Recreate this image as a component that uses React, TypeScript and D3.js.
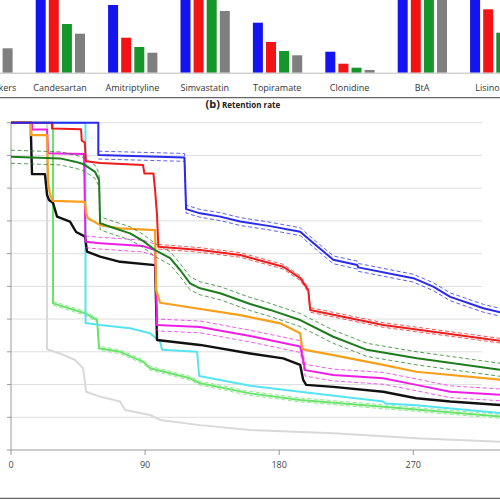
import React from "react";
import * as d3 from "d3";

// ---------- Panel (a) bar data ----------
const categories = ["Beta-blockers", "Candesartan", "Amitriptyline", "Simvastatin", "Topiramate", "Clonidine", "BtA", "Lisinopril"];
const barGroups = ["blue", "red", "green", "gray"];
const barBlue = [90, 90, 67.7, 95, 50, 21, 98, 90];
const barRed = [85, 85, 35, 90, 30.7, 9, 95, 63.4];
const barGreen = [32, 48.7, 25.7, 85, 21.7, 5, 92, 40];
const barGray = [24.4, 39, 20, 61.7, 17.4, 2.7, 90, 30];
const barColors = ["#1414f0", "#f21414", "#16962a", "#7f7f7f"];

// ---------- Panel (b) retention data: [day, retention] ----------
const xTicks = [0, 90, 180, 270];
const yTicks = [0, 0.1, 0.2, 0.3, 0.4, 0.5, 0.6, 0.7, 0.8, 0.9, 1.0];

const blueSeries: [number, number][] = [
  [0, 1], [58.6, 1], [58.6, 0.901], [116.4, 0.894], [117.5, 0.736], [126.9, 0.723], [140.4, 0.713],
  [153.8, 0.698], [173.9, 0.684], [194.1, 0.667], [201.9, 0.636], [216.3, 0.581], [232.4, 0.565],
  [233, 0.558], [270, 0.525], [283.4, 0.499], [294.8, 0.468], [317, 0.433], [330, 0.419],
];
const redSeries: [number, number][] = [
  [0, 1], [27.5, 1], [27.5, 0.982], [47, 0.98], [47.5, 0.945], [49.5, 0.94], [50.3, 0.882],
  [59.8, 0.877], [88.6, 0.871], [89.5, 0.845], [95.6, 0.845], [96.7, 0.794], [98, 0.718],
  [98.9, 0.621], [126.9, 0.611], [153.8, 0.596], [182.7, 0.56], [194.1, 0.525], [199.5, 0.489],
  [200.8, 0.428], [249.8, 0.382], [330, 0.333],
];
const greenSeries: [number, number][] = [
  [0, 0.896], [32.9, 0.891], [43, 0.881], [48.4, 0.874], [56.4, 0.85], [59.1, 0.825], [59.8, 0.693],
  [66.5, 0.682], [79.9, 0.662], [88.6, 0.639], [96.7, 0.611], [106.8, 0.586], [113.5, 0.55],
  [120.2, 0.509], [126.9, 0.494], [140.4, 0.479], [160.5, 0.446], [173.9, 0.428], [194.1, 0.397],
  [216.3, 0.346], [238.9, 0.306], [272.5, 0.28], [330, 0.244],
];
const orangeSeries: [number, number][] = [
  [0, 1], [13.4, 1], [13.4, 0.962], [24.2, 0.962], [24.9, 0.819], [26.2, 0.779], [28.2, 0.761],
  [49.7, 0.758], [50.4, 0.724], [51.7, 0.708], [59.8, 0.687], [73.2, 0.677], [96.7, 0.672],
  [97.4, 0.489], [100.1, 0.45], [153.8, 0.412], [180.7, 0.387], [194.1, 0.357], [195.4, 0.312],
  [197.4, 0.306], [216.3, 0.29], [249.8, 0.26], [272, 0.239], [330, 0.214],
];
const magentaSeries: [number, number][] = [
  [0, 1], [14.1, 1], [14.1, 0.979], [24.2, 0.979], [24.9, 0.907], [49, 0.904], [50, 0.636],
  [59.8, 0.632], [88.6, 0.623], [96.7, 0.611], [98, 0.382], [126.9, 0.376], [160.5, 0.348],
  [194.1, 0.316], [196.1, 0.275], [197.4, 0.244], [216.3, 0.229], [249.8, 0.219], [272, 0.199],
  [294.8, 0.178], [330, 0.168],
];
const blackSeries: [number, number][] = [
  [0, 1], [13.4, 1], [13.4, 0.962], [14.1, 0.843], [22.8, 0.843], [24.2, 0.779], [25.5, 0.764],
  [28.2, 0.755], [30.9, 0.713], [39.6, 0.698], [43.7, 0.666], [49.7, 0.652], [51, 0.606],
  [59.8, 0.591], [73.2, 0.575], [96.7, 0.565], [98, 0.336], [126.9, 0.321], [160.5, 0.295],
  [182.7, 0.28], [194.1, 0.26], [196.1, 0.214], [198.1, 0.199], [216.3, 0.193], [249.8, 0.178],
  [272, 0.158], [294.8, 0.148], [330, 0.137],
];
const cyanSeries: [number, number][] = [
  [0, 1], [50, 1], [50, 0.388], [59.8, 0.382], [79.9, 0.372], [93.4, 0.357], [100.1, 0.331],
  [101.4, 0.306], [124.9, 0.3], [126.3, 0.226], [160.5, 0.196], [194.1, 0.178], [249.8, 0.148],
  [251.2, 0.142], [272, 0.137], [330, 0.112],
];
const lightGreenSeries: [number, number][] = [
  [0, 1], [28.2, 1], [28.2, 0.448], [49.7, 0.418], [57.8, 0.397], [59.1, 0.311], [73.2, 0.3],
  [88.6, 0.27], [93.4, 0.25], [120.2, 0.219], [126.9, 0.204], [160.5, 0.173], [194.1, 0.153],
  [249.8, 0.132], [330, 0.102],
];
const lightGraySeries: [number, number][] = [
  [0, 1], [24.2, 1], [24.2, 0.308], [32.9, 0.295], [43, 0.275], [48.4, 0.25], [50.4, 0.178],
  [59.8, 0.163], [73.2, 0.148], [76.6, 0.122], [93.4, 0.107], [100.1, 0.092], [126.9, 0.076],
  [160.5, 0.061], [216.3, 0.051], [272, 0.036], [330, 0.025],
];

// drawing order, colour, width, CI half width and index where the CI starts
const seriesList = [
  { data: lightGraySeries, color: "#d9d9d9", width: 2, ci: 0, ciFrom: 0 },
  { data: lightGreenSeries, color: "#6ae36a", width: 2, ci: 0.006, ciFrom: 2 },
  { data: cyanSeries, color: "#55e4f0", width: 2, ci: 0, ciFrom: 0 },
  { data: blackSeries, color: "#111111", width: 2.4, ci: 0, ciFrom: 0 },
  { data: magentaSeries, color: "#ee1ee6", width: 2, ci: 0.018, ciFrom: 6 },
  { data: orangeSeries, color: "#f7a01c", width: 2.2, ci: 0, ciFrom: 0 },
  { data: greenSeries, color: "#1d7d1d", width: 2, ci: 0.02, ciFrom: 0 },
  { data: redSeries, color: "#ee1c1c", width: 2, ci: 0.007, ciFrom: 13 },
  { data: blueSeries, color: "#2a2aef", width: 2, ci: 0.012, ciFrom: 2 },
];

export default function App() {
  const W = 500, H = 500;
  const font = "'Open Sans', 'DejaVu Sans', sans-serif";

  // ---- bar scales
  const groupX = d3.scaleBand<string>().domain(categories).range([-48.6, -48.6 + 8 * 72.4]);
  const innerX = d3.scaleBand<string>().domain(barGroups).range([11.9, 61.2]).paddingInner(0.237).paddingOuter(0);
  const barY = d3.scaleLinear().domain([0, 100]).range([72.7, -27.3]);
  const barValues = [barBlue, barRed, barGreen, barGray];

  // ---- line chart scales
  const x = d3.scaleLinear().domain([0, 270]).range([11, 413.3]);
  const y = d3.scaleLinear().domain([0, 1]).range([450, 122.7]);
  const line = d3.line<[number, number]>().x((d) => x(d[0])).y((d) => y(d[1]));

  return (
    <svg width={W} height={H} style={{ position: "absolute", left: 0, top: 0, background: "#fff" }} fontFamily={font}>
      <rect x={0} y={0} width={W} height={H} fill="#fff" />
      {/* Panel a bars */}
      {categories.map((c, i) => (
        <g key={c} transform={`translate(${groupX(c)},0)`}>
          {barGroups.map((g, j) => {
            const v = barValues[j][i];
            return (
              <rect key={g} x={innerX(g)} y={barY(v)} width={innerX.bandwidth()} height={barY(0) - barY(v)} fill={barColors[j]} />
            );
          })}
          <text x={36.2} y={90.5} textAnchor="middle" fontSize={9} fill="#333">{c}</text>
        </g>
      ))}
      <line x1={0} x2={500} y1={73.2} y2={73.2} stroke="#bbb" strokeWidth={1} />
      <line x1={0} x2={500} y1={97.7} y2={97.7} stroke="#666" strokeWidth={1.2} />

      {/* Title */}
      <text x={205.5} y={108.3} fontWeight="bold" fill="#222">
        <tspan fontSize={11}>(b)</tspan>
        <tspan fontSize={8} dx={2}>Retention rate</tspan>
      </text>

      {/* Grid */}
      {yTicks.filter((t) => t > 0).map((t) => (
        <line key={t} x1={11} x2={482} y1={y(t)} y2={y(t)} stroke="#dedede" strokeWidth={1} />
      ))}
      {/* Y axis */}
      <line x1={11} x2={11} y1={y(1)} y2={y(0)} stroke="#999" strokeWidth={1} />
      {yTicks.map((t) => (
        <line key={"yt" + t} x1={7} x2={11} y1={y(t)} y2={y(t)} stroke="#999" strokeWidth={1} />
      ))}
      {/* X axis */}
      <line x1={11} x2={500} y1={y(0)} y2={y(0)} stroke="#999" strokeWidth={1} />
      {xTicks.map((t) => (
        <g key={"xt" + t}>
          <line x1={x(t)} x2={x(t)} y1={450} y2={455} stroke="#999" strokeWidth={1} />
          <text x={x(t)} y={468} textAnchor="middle" fontSize={9} fill="#444">{t}</text>
        </g>
      ))}

      {/* Lines with CI */}
      {seriesList.map((s, i) => {
        const ciPts = s.data.slice(s.ciFrom);
        return (
          <g key={i}>
            {s.ci > 0 && (
              <>
                <path d={line(ciPts.map((d) => [d[0], d[1] + s.ci] as [number, number])) || ""} fill="none" stroke={s.color} strokeOpacity={0.75} strokeWidth={1} strokeDasharray="4,2.5" />
                <path d={line(ciPts.map((d) => [d[0], d[1] - s.ci] as [number, number])) || ""} fill="none" stroke={s.color} strokeOpacity={0.75} strokeWidth={1} strokeDasharray="4,2.5" />
              </>
            )}
            <path d={line(s.data) || ""} fill="none" stroke={s.color} strokeWidth={s.width} strokeLinejoin="round" />
          </g>
        );
      })}

      <line x1={0} x2={500} y1={498.3} y2={498.3} stroke="#666" strokeWidth={1.2} />
    </svg>
  );
}
